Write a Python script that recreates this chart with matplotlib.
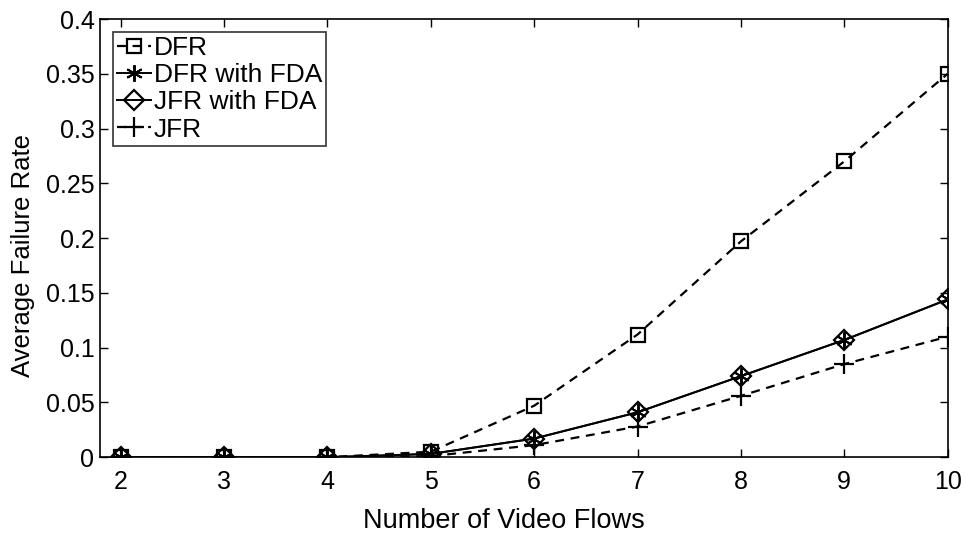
import matplotlib
matplotlib.use("Agg")
import matplotlib.pyplot as plt

plt.rcParams['font.family'] = ['Liberation Sans', 'DejaVu Sans']

flows = [2, 3, 4, 5, 6, 7, 8, 9, 10]
dfr = [0, 0, 0, 0.005, 0.047, 0.112, 0.197, 0.270, 0.350]
dfr_fda = [0, 0, 0, 0.003, 0.017, 0.041, 0.074, 0.107, 0.144]
jfr_fda = [0, 0, 0, 0.003, 0.017, 0.041, 0.074, 0.107, 0.144]
jfr = [0, 0, 0, 0.001, 0.011, 0.028, 0.056, 0.085, 0.110]
yticks = [0, 0.05, 0.1, 0.15, 0.2, 0.25, 0.3, 0.35, 0.4]
ytick_labels = ['0', '0.05', '0.1', '0.15', '0.2', '0.25', '0.3', '0.35', '0.4']

fig = plt.figure(figsize=(9.66, 5.43), dpi=100)
ax = fig.add_axes([0.1035, 0.158, 0.8775, 0.807])

ax.plot(flows, dfr, 'k--', marker='s', markersize=10, markerfacecolor='none',
        markeredgewidth=1.6, linewidth=1.6, dashes=(4, 3), label='DFR')
ax.plot(flows, dfr_fda, 'k-', marker=(6, 2, 0), markersize=12,
        markeredgewidth=1.4, linewidth=1.4, label='DFR with FDA')
ax.plot(flows, jfr_fda, 'k-', marker='D', markersize=10, markerfacecolor='none',
        markeredgewidth=1.6, linewidth=1.4, label='JFR with FDA')
ax.plot(flows, jfr, 'k--', marker='+', markersize=14, markeredgewidth=1.6,
        linewidth=1.6, dashes=(4, 3), label='JFR')

ax.set_xlim(1.8, 10)
ax.set_ylim(0, 0.4)
ax.set_xticks(flows)
ax.set_yticks(yticks)
ax.set_yticklabels(ytick_labels)
ax.tick_params(direction='in', top=True, right=True, labelsize=18, length=6, width=1)
ax.tick_params(axis='x', pad=9)
ax.tick_params(axis='y', pad=4)
for s in ax.spines.values():
    s.set_linewidth(1.2)
ax.set_xlabel('Number of Video Flows', fontsize=19.5)
ax.xaxis.set_label_coords(0.476, -0.115)
ax.set_ylabel('Average Failure Rate', fontsize=18.5)
ax.yaxis.set_label_coords(-0.077, 0.46)

leg = ax.legend(loc='upper left', fontsize=19, frameon=True, fancybox=False,
                edgecolor='black', handlelength=1.3, handletextpad=0.1,
                borderpad=0.15, labelspacing=0.12, borderaxespad=0.5)
leg.get_frame().set_linewidth(1.2)

fig.savefig('out.png', dpi=100)
